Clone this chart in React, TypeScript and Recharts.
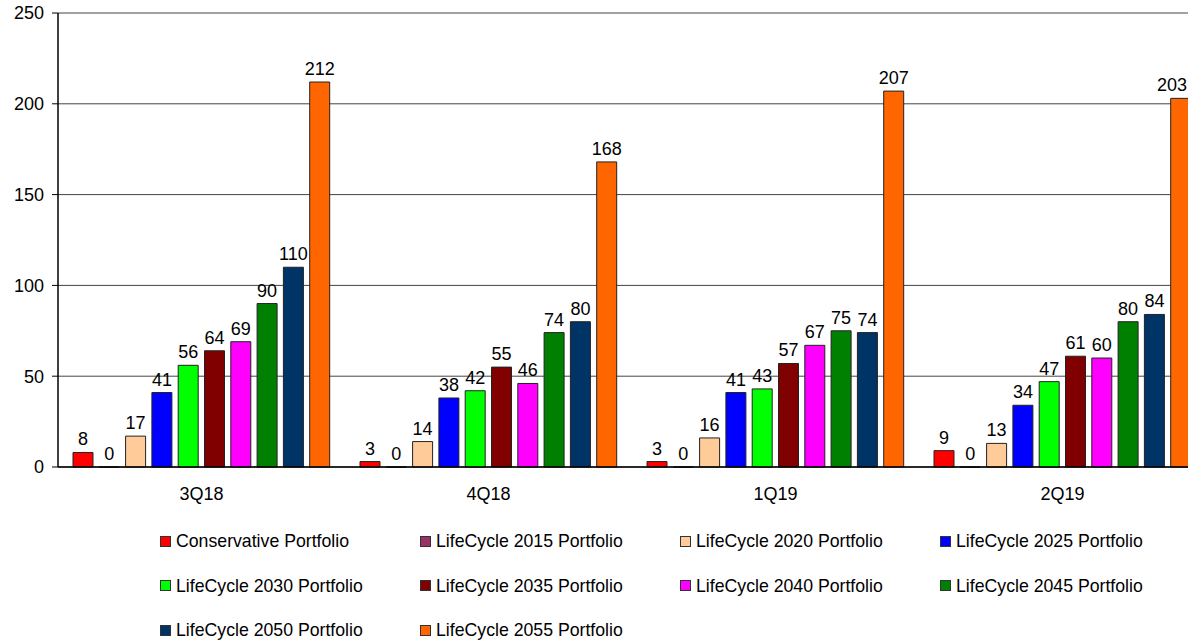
import React from 'react';
import { BarChart, Bar, XAxis, YAxis, CartesianGrid, Legend, LabelList } from 'recharts';

const categories = ['3Q18', '4Q18', '1Q19', '2Q19'];
const conservative = [8, 3, 3, 9];
const lc2015 = [0, 0, 0, 0];
const lc2020 = [17, 14, 16, 13];
const lc2025 = [41, 38, 41, 34];
const lc2030 = [56, 42, 43, 47];
const lc2035 = [64, 55, 57, 61];
const lc2040 = [69, 46, 67, 60];
const lc2045 = [90, 74, 75, 80];
const lc2050 = [110, 80, 74, 84];
const lc2055 = [212, 168, 207, 203];
const yTicks = [0, 50, 100, 150, 200, 250];

const seriesNames = [
  'Conservative Portfolio',
  'LifeCycle 2015 Portfolio',
  'LifeCycle 2020 Portfolio',
  'LifeCycle 2025 Portfolio',
  'LifeCycle 2030 Portfolio',
  'LifeCycle 2035 Portfolio',
  'LifeCycle 2040 Portfolio',
  'LifeCycle 2045 Portfolio',
  'LifeCycle 2050 Portfolio',
  'LifeCycle 2055 Portfolio',
];
const seriesValues = [conservative, lc2015, lc2020, lc2025, lc2030, lc2035, lc2040, lc2045, lc2050, lc2055];
const seriesColors = ['#FF0000', '#993366', '#FFCC99', '#0000FF', '#00FF00', '#800000', '#FF00FF', '#008000', '#003366', '#FF6600'];

const data = categories.map((c, i) => {
  const row: Record<string, any> = { name: c };
  seriesNames.forEach((s, k) => {
    row['s' + k] = seriesValues[k][i];
  });
  return row;
});

const FONT = '"Liberation Sans", Arial, sans-serif';
const VIEW_W = 1188;
const NUM_FS = 18;

const TopLabel = (props: any) => {
  const { x, y, width, value } = props;
  if (value === undefined || value === null) return null;
  const txt = String(value);
  const tw = txt.length * NUM_FS * 0.556;
  let cx = Number(x) + Number(width) / 2;
  if (cx + tw / 2 > VIEW_W - 1) cx = VIEW_W - 1 - tw / 2;
  return (
    <text x={cx} y={Number(y) - 7} textAnchor="middle" fill="#000" fontSize={NUM_FS} fontFamily={FONT}>
      {txt}
    </text>
  );
};

const LegendGrid = () => (
  <div
    style={{
      height: 133,
      overflow: 'visible',
      paddingTop: 25,
      paddingLeft: 160,
      boxSizing: 'border-box',
      fontFamily: FONT,
      fontSize: 17.7,
      color: '#000',
      display: 'grid',
      gridTemplateColumns: 'repeat(4, 260px)',
      gridAutoRows: '44.5px',
      alignItems: 'start',
    }}
  >
    {seriesNames.map((n, i) => (
      <div key={n} style={{ display: 'flex', alignItems: 'center', height: 18, lineHeight: '18px', whiteSpace: 'nowrap' }}>
        <span
          style={{
            display: 'inline-block',
            width: 9,
            height: 9,
            background: seriesColors[i],
            border: '1px solid #333',
            marginRight: 5,
          }}
        />
        <span>{n}</span>
      </div>
    ))}
  </div>
);

export default function App() {
  return (
    <div style={{ position: 'absolute', left: 0, top: 0, width: VIEW_W, height: 640, overflow: 'hidden', background: '#fff' }}>
      <BarChart
        width={1216}
        height={640}
        data={data}
        margin={{ top: 13, right: 10, bottom: 0, left: 0 }}
        barCategoryGap={15}
        barGap={6.3}
      >
        <CartesianGrid vertical={false} stroke="#444" strokeWidth={1} />
        <XAxis
          dataKey="name"
          height={40}
          tickLine={false}
          tickSize={0}
          tickMargin={20}
          axisLine={{ stroke: '#000', strokeWidth: 1.5 }}
          tick={{ fill: '#000', fontSize: NUM_FS, fontFamily: FONT }}
        />
        <YAxis
          width={58}
          domain={[0, 250]}
          ticks={yTicks}
          tickSize={6}
          tickMargin={8}
          axisLine={{ stroke: '#000', strokeWidth: 1.5 }}
          tickLine={{ stroke: '#000' }}
          tick={{ fill: '#000', fontSize: NUM_FS, fontFamily: FONT }}
        />
        <Legend verticalAlign="bottom" height={133} content={() => <LegendGrid />} />
        {seriesNames.map((n, k) => (
          <Bar
            key={n}
            dataKey={'s' + k}
            name={n}
            fill={seriesColors[k]}
            stroke="#222"
            strokeWidth={1}
            minPointSize={(v: any) => (v === 0 ? 0.01 : 0)}
            isAnimationActive={false}
          >
            <LabelList dataKey={'s' + k} content={<TopLabel />} />
          </Bar>
        ))}
      </BarChart>
    </div>
  );
}
